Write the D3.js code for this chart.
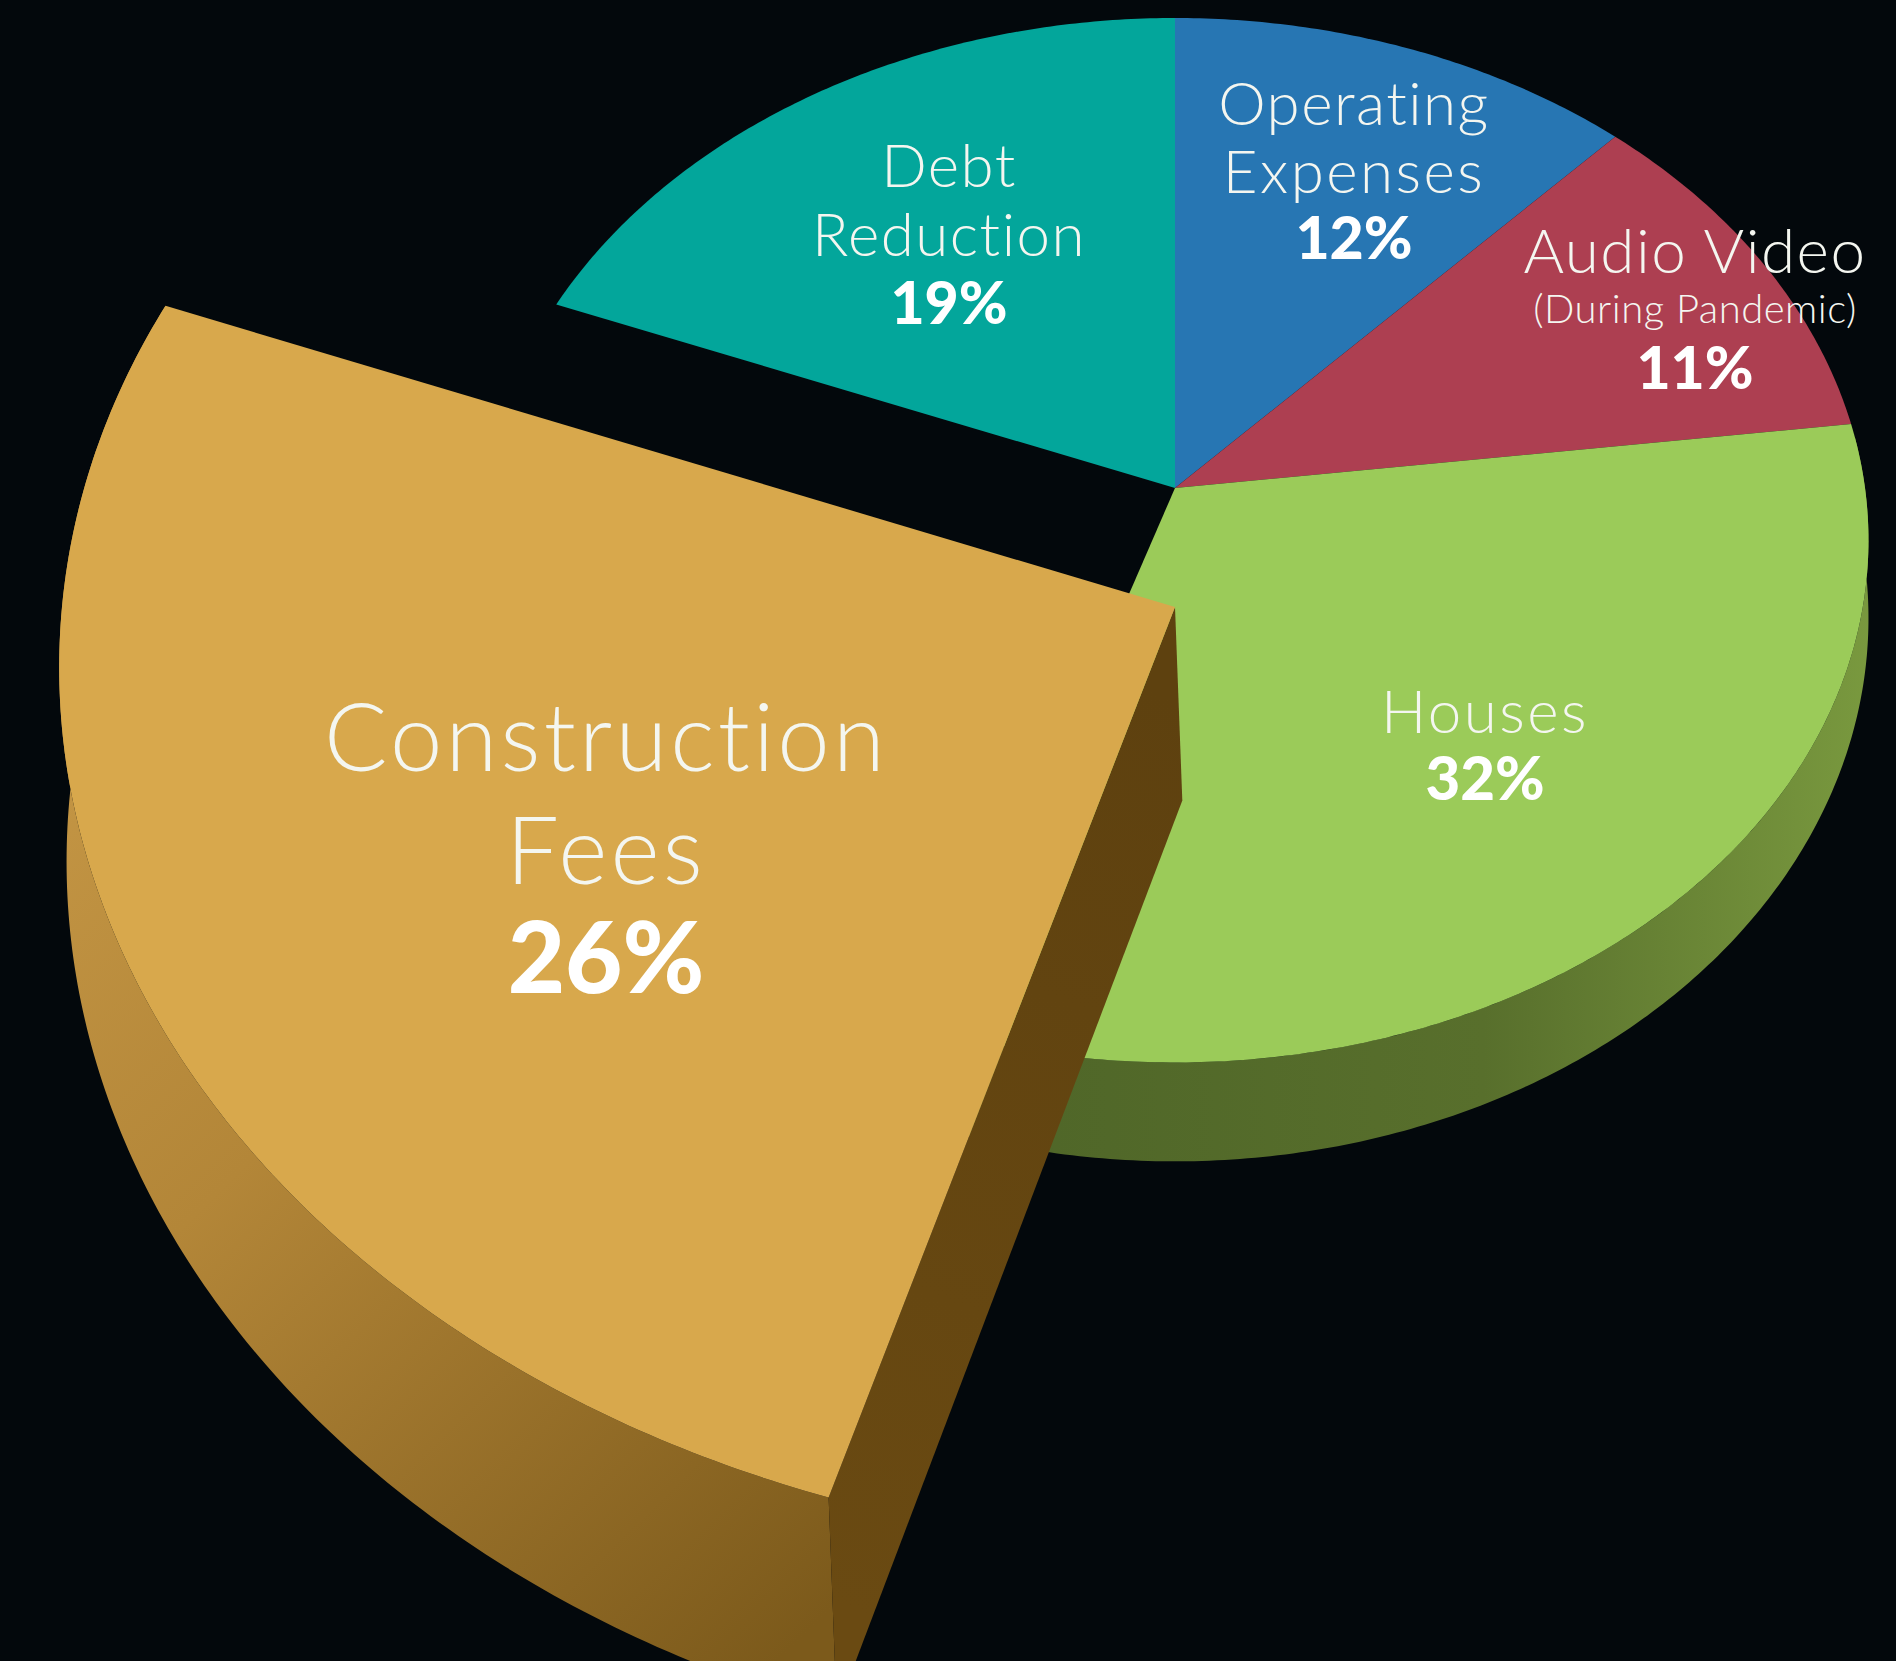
<!DOCTYPE html>
<html>
<head>
<meta charset="utf-8">
<script src="https://cdn.jsdelivr.net/npm/d3@7"></script>
<style>
  html, body { margin: 0; padding: 0; background: #03080c; }
  svg { display: block; }
</style>
</head>
<body>
<div id="chart"></div>
<script>
// data ////////////////////////////////
const categories = ['Operating Expenses', 'Audio Video', 'Houses', 'Construction Fees', 'Debt Reduction']
const values = [12, 11, 32, 26, 19]
const nameLines = [
  ['Operating', 'Expenses'],
  ['Audio Video', '(During Pandemic)'],
  ['Houses'],
  ['Construction', 'Fees'],
  ['Debt', 'Reduction']
]
const topColors = ['#2776b3', '#ad3f51', '#9bcb59', '#d8a84c', '#03a69b']
const explodedName = 'Construction Fees'

// sizes / projection ////////////////////////////////
const width = 1896
const height = 1661

// main disc, seen in perspective
const view = { cx: 1175, cy: 488, sx: 690, sy: 517, p: 0.1, depth: 76, k: 2.5 }
// pulled-out slice: same disc, shifted and brought closer
const pull = { x: 1175, y: 607, m: [[1.613, 0.062], [0.0006, 1.639]], depth: 118, k: 1 }

// label layout (centre x, baselines)
const labelLayout = {
  'Operating Expenses': { x: 1354, lines: [125, 193], size: [60, 60], ls: [1.5, 2.5], pct: 259, pctSize: 59 },
  'Audio Video': { x: 1695, lines: [273, 323], size: [62, 40], ls: [1.5, 0.5], pct: 389, pctSize: 59 },
  'Houses': { x: 1485, lines: [733], size: [60], ls: [2.5], pct: 800, pctSize: 60 },
  'Construction Fees': { x: 606, lines: [771, 884], size: [94, 94], ls: [3.2, 3.2], pct: 993, pctSize: 99 },
  'Debt Reduction': { x: 949, lines: [187, 256], size: [60, 60], ls: [1.5, 1.5], pct: 324, pctSize: 59 }
}

const svg = d3
  .select('#chart')
  .append('svg')
  .attr('width', width)
  .attr('height', height)
  .attr('viewBox', [0, 0, width, height])

svg.append('rect').attr('width', width).attr('height', height).attr('fill', '#03080c')

const defs = svg.append('defs')

function gradient(id, stops, x1, y1, x2, y2) {
  const g = defs
    .append('linearGradient')
    .attr('id', id)
    .attr('gradientUnits', 'userSpaceOnUse')
    .attr('x1', x1).attr('y1', y1).attr('x2', x2).attr('y2', y2)
  stops.forEach(s => g.append('stop').attr('offset', s[0]).attr('stop-color', s[1]))
}
gradient('greenSide', [[0, '#4f6628'], [0.55, '#586f2c'], [1, '#7a9a3f']], 1000, 0, 1880, 0)
gradient('goldSide', [[0, '#c29443'], [0.35, '#b38638'], [1, '#7c5a1b']], 60, 800, 840, 1600)
gradient('goldCut', [[0, '#5e410f'], [1, '#6a4a12']], 1175, 700, 830, 1600)

// pie angles ////////////////////////////////
const pie = d3.pie().sort(null).value(d => d.value)
const slices = pie(categories.map((c, i) => ({ name: c, value: values[i], color: topColors[i] })))

// project an angle on the rim (r = 0 centre, 1 rim) at top (lvl 0) or bottom (lvl 1)
function project(a, r, lvl, opt) {
  const X = Math.sin(a) * r
  const Z = -Math.cos(a) * r
  const w = 1 - view.p * Z
  return [view.sx * X / w, view.sy * Z / w + lvl * opt.depth / Math.pow(w, opt.k)]
}

function placeMain(pt) {
  return [view.cx + pt[0], view.cy + pt[1]]
}
function placePulled(pt) {
  const m = pull.m
  return [pull.x + m[0][0] * pt[0] + m[0][1] * pt[1], pull.y + m[1][0] * pt[0] + m[1][1] * pt[1]]
}

function arcPoints(a0, a1, lvl, opt) {
  const n = Math.max(8, Math.ceil((a1 - a0) / 0.01))
  return d3.range(n + 1).map(i => project(a0 + (a1 - a0) * i / n, 1, lvl, opt))
}

const line = d3.line().curve(d3.curveLinearClosed)
const flat = { depth: 0, k: 1 }

function topPath(d, place) {
  const pts = [project(0, 0, 0, flat)].concat(arcPoints(d.startAngle, d.endAngle, 0, flat))
  return line(pts.map(place))
}
function sidePath(d, place, opt) {
  const top = arcPoints(d.startAngle, d.endAngle, 0, opt)
  const bottom = arcPoints(d.startAngle, d.endAngle, 1, opt).reverse()
  return line(top.concat(bottom).map(place))
}
function cutPath(a, place, opt) {
  const pts = [project(a, 0, 0, opt), project(a, 1, 0, opt), project(a, 1, 1, opt), project(a, 0, 1, opt)]
  return line(pts.map(place))
}

const mainSlices = slices.filter(d => d.data.name !== explodedName)
const outSlice = slices.find(d => d.data.name === explodedName)

// main disc: front side (only the Houses wall shows), then tops
const houses = slices.find(d => d.data.name === 'Houses')
svg
  .append('path')
  .attr('class', 'side')
  .attr('d', sidePath({ startAngle: Math.PI / 2 - 0.1, endAngle: houses.endAngle }, placeMain, view))
  .attr('fill', 'url(#greenSide)')

svg
  .selectAll('.top')
  .data(mainSlices)
  .enter()
  .append('path')
  .attr('class', 'top')
  .attr('d', d => topPath(d, placeMain))
  .attr('fill', d => d.data.color)

// pulled-out slice
const outG = svg.append('g').attr('class', 'pulled')
outG
  .append('path')
  .attr('d', sidePath(outSlice, placePulled, pull))
  .attr('fill', 'url(#goldSide)')
outG
  .append('path')
  .attr('d', cutPath(outSlice.startAngle, placePulled, pull))
  .attr('fill', 'url(#goldCut)')
outG
  .append('path')
  .attr('d', topPath(outSlice, placePulled))
  .attr('fill', outSlice.data.color)

// labels ////////////////////////////////
const labels = svg
  .selectAll('.label')
  .data(slices)
  .enter()
  .append('g')
  .attr('class', 'label')
  .attr('text-anchor', 'middle')

labels.each(function(d, i) {
  const g = d3.select(this)
  const lay = labelLayout[d.data.name]
  nameLines[i].forEach((t, j) => {
    g.append('text')
      .attr('x', lay.x)
      .attr('y', lay.lines[j])
      .attr('font-family', 'Lato, "Open Sans", sans-serif')
      .attr('font-weight', 300)
      .attr('font-size', lay.size[j])
      .attr('letter-spacing', lay.ls[j])
      .attr('fill', '#f4f6f0')
      .text(t)
  })
  g.append('text')
    .attr('x', lay.x)
    .attr('y', lay.pct)
    .attr('font-family', 'Lato, "Open Sans", sans-serif')
    .attr('font-weight', 900)
    .attr('font-size', lay.pctSize)
    .attr('fill', '#ffffff')
    .text(d3.format('d')(d.data.value) + '%')
})
</script>
</body>
</html>
